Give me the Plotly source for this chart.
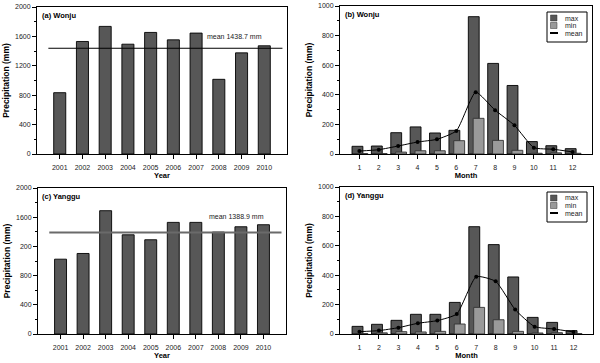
import plotly.graph_objects as go

years = [2001, 2002, 2003, 2004, 2005, 2006, 2007, 2008, 2009, 2010]
wonju_annual = [834, 1531, 1736, 1494, 1654, 1553, 1645, 1016, 1376, 1472]
yanggu_annual = [1025, 1103, 1689, 1359, 1291, 1529, 1529, 1396, 1469, 1497]
wonju_mean_annual = 1438.7
yanggu_mean_annual = 1388.9

months = [1, 2, 3, 4, 5, 6, 7, 8, 9, 10, 11, 12]
wonju_max = [52, 54, 144, 183, 142, 160, 928, 612, 463, 84, 56, 36]
wonju_min = [3, 3, 13, 22, 22, 90, 241, 92, 25, 5, 8, 5]
wonju_mean = [20, 29, 54, 81, 99, 156, 418, 296, 194, 43, 32, 14]
yanggu_max = [52, 66, 93, 134, 134, 215, 730, 608, 388, 113, 79, 23]
yanggu_min = [3, 8, 16, 14, 18, 68, 181, 97, 18, 7, 9, 3]
yanggu_mean = [16, 23, 43, 73, 91, 136, 390, 358, 166, 50, 34, 14]

series_names = ["max", "min", "mean"]
annual_ticks = [0, 400, 800, 1200, 1600, 2000]
wonju_ticktext = ["0", "400", "800", "1200", "1600", "2000"]
yanggu_ticktext = ["0", "400", "800", "200", "1600", "2000"]
monthly_ticks = [0, 200, 400, 600, 800, 1000]

FONT = "Liberation Sans, Arial, sans-serif"
DARK = "#575757"
LIGHT = "#9a9a9a"
W, H = 600, 363

fig = go.Figure()

fig.add_trace(go.Bar(x=years, y=wonju_annual, marker=dict(color=DARK, line=dict(color="black", width=0.9)),
                     width=0.53, xaxis="x", yaxis="y", showlegend=False))
fig.add_trace(go.Bar(x=years, y=yanggu_annual, marker=dict(color=DARK, line=dict(color="black", width=0.9)),
                     width=0.53, xaxis="x3", yaxis="y3", showlegend=False))

def monthly(mx, mn, me, xa, ya):
    fig.add_trace(go.Bar(x=months, y=mx, name=series_names[0], marker=dict(color=DARK, line=dict(color="black", width=0.9)),
                         width=0.56, offset=-0.38, xaxis=xa, yaxis=ya, showlegend=False))
    fig.add_trace(go.Bar(x=months, y=mn, name=series_names[1], marker=dict(color=LIGHT, line=dict(color="#333", width=0.9)),
                         width=0.56, offset=-0.13, xaxis=xa, yaxis=ya, showlegend=False))
    fig.add_trace(go.Scatter(x=months, y=me, name=series_names[2], mode="lines+markers",
                             line=dict(color="black", width=1, shape="spline", smoothing=0.5),
                             marker=dict(color="black", size=4),
                             xaxis=xa, yaxis=ya, showlegend=False))

monthly(wonju_max, wonju_min, wonju_mean, "x2", "y2")
monthly(yanggu_max, yanggu_min, yanggu_mean, "x4", "y4")

tickfont = dict(family=FONT, size=7, color="#222")
xtitlefont = dict(family=FONT, size=7.5, color="black", weight="bold")
ytitlefont = dict(family=FONT, size=8.5, color="black", weight="bold")

def xaxis(dom, rng, vals, title, anchor):
    return dict(domain=dom, range=rng, tickvals=vals, ticks="outside", ticklen=4, tickcolor="black",
                ticklabelstandoff=3,
                showline=True, linecolor="black", linewidth=1, mirror=True, showgrid=False, zeroline=False,
                tickfont=tickfont, title=dict(text=title, font=xtitlefont, standoff=0), anchor=anchor, automargin=False)

def yaxis(dom, rng, vals, text, minor, anchor):
    return dict(domain=dom, range=rng, tickvals=vals, ticktext=text, ticks="outside", ticklen=4, tickcolor="black",
                minor=dict(ticks="outside", ticklen=2, dtick=minor, tick0=0, tickcolor="black", showgrid=False),
                showline=True, linecolor="black", linewidth=1, mirror=True, showgrid=False, zeroline=False,
                tickfont=tickfont, title=dict(text="Precipitation (mm)", font=ytitlefont, standoff=4), anchor=anchor,
                automargin=False)

fig.update_layout(
    width=W, height=H, margin=dict(l=0, r=0, t=0, b=0), paper_bgcolor="white", plot_bgcolor="white",
    barmode="overlay", font=dict(family=FONT), showlegend=False,
    xaxis=xaxis([37/W, 287/W], [2000, 2011], years, "Year", "y"),
    yaxis=yaxis([1-154/H, 1-7/H], [0, 2000], annual_ticks, wonju_ticktext, 200, "x"),
    xaxis2=xaxis([340/W, 592/W], [0, 13], months, "Month", "y2"),
    yaxis2=yaxis([1-154/H, 1-6/H], [0, 1000], monthly_ticks, None, 100, "x2"),
    xaxis3=xaxis([38/W, 286/W], [2000, 2011], years, "Year", "y3"),
    yaxis3=yaxis([1-334/H, 1-188/H], [0, 2000], annual_ticks, yanggu_ticktext, 200, "x3"),
    xaxis4=xaxis([340/W, 593/W], [0, 13], months, "Month", "y4"),
    yaxis4=yaxis([1-334/H, 1-187/H], [0, 1000], monthly_ticks, None, 100, "x4"),
)

fig.add_shape(type="line", xref="x", yref="y", x0=2000.5, x1=2010.8, y0=wonju_mean_annual, y1=wonju_mean_annual,
              line=dict(color="black", width=1))
fig.add_shape(type="line", xref="x3", yref="y3", x0=2000.5, x1=2010.8, y0=yanggu_mean_annual, y1=yanggu_mean_annual,
              line=dict(color="#6a6a6a", width=2))

ann_font = dict(family=FONT, size=7, color="#222")
fig.add_annotation(x=2007.4, y=1600, xref="x", yref="y", text=f"mean {wonju_mean_annual} mm", showarrow=False,
                   xanchor="left", yanchor="middle", font=ann_font)
fig.add_annotation(x=2007.5, y=1616, xref="x3", yref="y3", text=f"mean {yanggu_mean_annual} mm", showarrow=False,
                   xanchor="left", yanchor="middle", font=ann_font)

labels = [("x", "y", "(a) Wonju"), ("x2", "y2", "(b) Wonju"), ("x3", "y3", "(c) Yanggu"), ("x4", "y4", "(d) Yanggu")]
for xa, ya, t in labels:
    fig.add_annotation(x=0.01, y=0.985, xref=f"{xa} domain", yref=f"{ya} domain", text=t, showarrow=False,
                       xanchor="left", yanchor="top", font=dict(family=FONT, size=7.5, color="black", weight="bold"))

def px(x):
    return x / W

def py(y):
    return 1 - y / H

def legend_box(top):
    fig.add_shape(type="rect", xref="paper", yref="paper", x0=px(547), x1=px(587), y0=py(top), y1=py(top + 30),
                  line=dict(color="black", width=1), fillcolor="white", layer="above")
    rows = [top + 6, top + 13.5, top + 21]
    styles = [DARK, LIGHT, None]
    for name, ry, col in zip(series_names, rows, styles):
        if col is None:
            fig.add_shape(type="line", xref="paper", yref="paper", x0=px(550), x1=px(558), y0=py(ry), y1=py(ry),
                          line=dict(color="black", width=2), layer="above")
        else:
            fig.add_shape(type="rect", xref="paper", yref="paper", x0=px(550.5), x1=px(557), y0=py(ry - 3),
                          y1=py(ry + 3), line=dict(color="#333", width=0.5), fillcolor=col, layer="above")
        fig.add_annotation(x=px(563), y=py(ry), xref="paper", yref="paper", text=name, showarrow=False,
                           xanchor="left", yanchor="middle", font=dict(family=FONT, size=7, color="#222"))

legend_box(12)
legend_box(192)

fig.write_html("out.html", config={"displayModeBar": False},
               post_script="document.body.style.margin='0';document.body.style.overflow='hidden';")
